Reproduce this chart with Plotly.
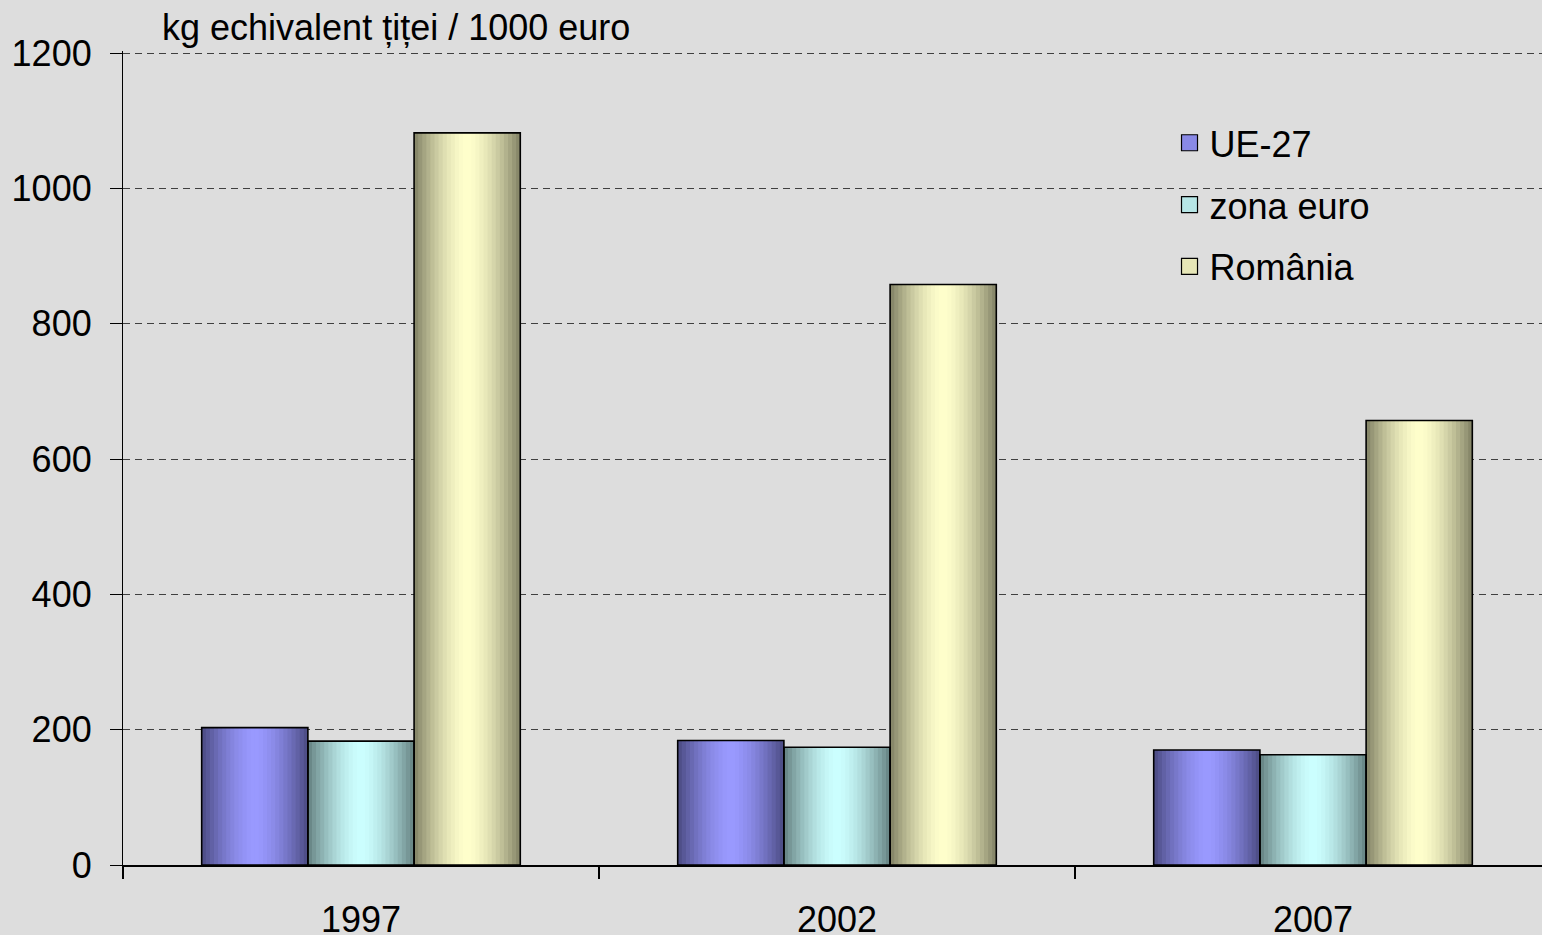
import plotly.graph_objects as go

# ---- data ----
years = ["1997", "2002", "2007"]
series_names = ["UE-27", "zona euro", "România"]
ue27 = [203, 184, 170]
zona_euro = [183, 174, 163]
romania = [1082, 858, 657]
y_ticks = [0, 200, 400, 600, 800, 1000, 1200]
y_title = "kg echivalent țiței / 1000 euro"

# ---- style ----
FONT = "Liberation Sans, Arial, sans-serif"
BG = "#DDDDDD"
BAR_W = 0.2231
OFFSETS = [-0.3347, -0.1116, 0.1115]
CENTER_COLORS = [(0x99, 0x99, 0xFF), (0xCC, 0xFF, 0xFF), (0xFF, 0xFF, 0xCC)]
EDGE_COLORS = [(0x4A, 0x4A, 0x80), (0x64, 0x80, 0x80), (0x80, 0x80, 0x64)]
N_STRIPS = 26

values = [ue27, zona_euro, romania]


def mix(c1, c2, f):
    return "rgb(%d,%d,%d)" % tuple(round(a + (b - a) * f) for a, b in zip(c1, c2))


fig = go.Figure()

# gradient strips
for i, name in enumerate(series_names):
    step = BAR_W / N_STRIPS
    for k in range(N_STRIPS):
        u = (k + 0.5) / N_STRIPS
        f = 1 - abs(2 * u - 1) ** 1.6
        start = OFFSETS[i] + k * step
        w = min(step * 1.6, OFFSETS[i] + BAR_W - start)
        fig.add_trace(go.Bar(
            x=years, y=values[i], legendgroup=name, showlegend=False,
            offset=start, width=w,
            marker=dict(color=mix(EDGE_COLORS[i], CENTER_COLORS[i], f),
                        line=dict(width=0)),
            hoverinfo="skip",
        ))

# outlines
for i, name in enumerate(series_names):
    fig.add_trace(go.Bar(
        x=years, y=values[i], legendgroup=name, showlegend=False,
        offset=OFFSETS[i], width=BAR_W,
        marker=dict(color="rgba(0,0,0,0)", line=dict(color="black", width=1.6)),
        hovertemplate=name + " %{x}: %{y}<extra></extra>",
    ))

# legend entries
for i, name in enumerate(series_names):
    fig.add_trace(go.Scatter(
        x=[None], y=[None], mode="markers", name=name, legendgroup=name,
        marker=dict(symbol="square", size=22,
                    color=mix(EDGE_COLORS[i], CENTER_COLORS[i], 0.8),
                    line=dict(color="black", width=1.2)),
    ))

fig.update_layout(
    width=1542, height=935,
    barmode="overlay",
    paper_bgcolor=BG, plot_bgcolor=BG,
    font=dict(family=FONT, size=36, color="black"),
    margin=dict(l=123, r=0, t=51, b=70, autoexpand=False),
    showlegend=True,
    legend=dict(
        x=0.7375, y=0.924, xanchor="left", yanchor="top",
        bgcolor="rgba(0,0,0,0)", font=dict(size=36),
        tracegroupgap=12, traceorder="grouped", itemsizing="trace",
    ),
    annotations=[dict(
        text=y_title, xref="paper", yref="paper",
        x=0.026, y=1.0283, xanchor="left", yanchor="middle",
        showarrow=False, font=dict(size=36),
    )],
)

fig.update_xaxes(
    type="category", range=[-0.5, 2.481], automargin=False,
    tickson="boundaries", ticks="outside", ticklen=12, tickcolor="black", tickwidth=1.5,
    showline=True, linecolor="black", linewidth=1.5,
    showgrid=False, ticklabelstandoff=22,
    tickfont=dict(size=36),
)
fig.update_yaxes(
    range=[0, 1203], tickvals=y_ticks, automargin=False,
    ticks="outside", ticklen=12, tickcolor="black", tickwidth=1.2,
    showline=True, linecolor="black", linewidth=1.2,
    showgrid=True, gridcolor="#404040", gridwidth=1, griddash="7px,5px",
    zeroline=False, ticklabelstandoff=11,
    tickfont=dict(size=36),
)

fig.write_html(
    "out.html",
    config={"displayModeBar": False},
    post_script="document.body.style.margin='0px';document.body.style.padding='0px';",
)
